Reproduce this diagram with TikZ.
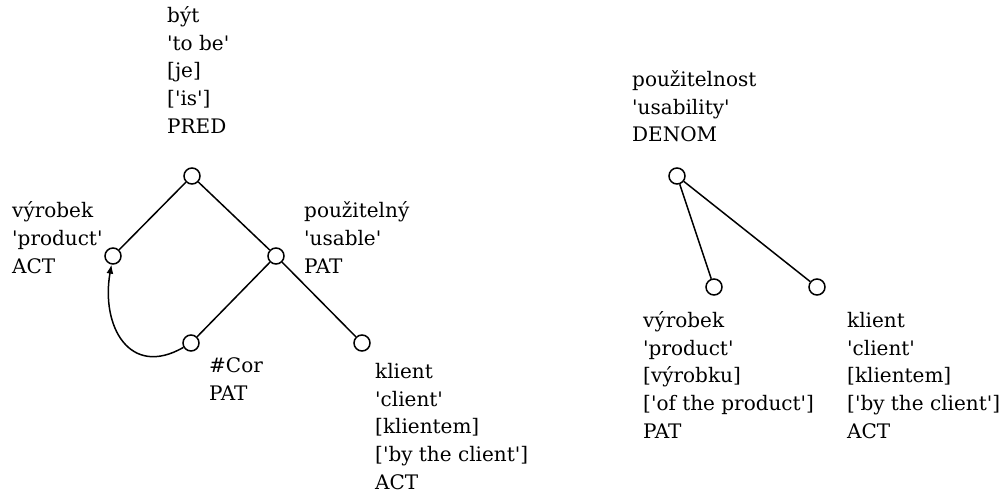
\documentclass[tikz,border=0pt]{standalone}
\usepackage{fontspec}
\setmainfont[Ligatures=TeXOff]{DejaVu Serif}
\usetikzlibrary{arrows.meta}
\begin{document}
\begin{tikzpicture}[x=1pt,y=1pt,
  vtx/.style={circle,draw,line width=1.5pt,minimum size=16pt,inner sep=0pt},
  lbl/.style={anchor=base west,align=left,inner sep=0pt,font=\fontsize{20}{27.6}\selectfont},
  edge/.style={line width=1.5pt}]
\useasboundingbox (0,0) rectangle (1003,-500);
% left tree
\node[vtx] (A) at (192,-176) {};
\node[vtx] (B) at (113,-256) {};
\node[vtx] (C) at (276,-256) {};
\node[vtx] (D) at (191,-343) {};
\node[vtx] (E) at (362,-343) {};
\draw[edge] (A) -- (B);
\draw[edge] (A) -- (C);
\draw[edge] (C) -- (D);
\draw[edge] (C) -- (E);
\draw[edge,-{Latex[length=9pt,width=7pt]}] (D) to[out=210,in=260,looseness=1.45] (B);
\node[lbl] (tA) at (167,-133) {být\\'to be'\\{[}je{]}\\{[}'is'{]}\\PRED};
\node[lbl] (tB) at (12,-273) {výrobek\\'product'\\ACT};
\node[lbl] (tC) at (304,-273) {použitelný\\'usable'\\PAT};
\node[lbl] (tD) at (209,-400) {\#Cor\\PAT};
\node[lbl] (tE) at (375,-489) {klient\\'client'\\{[}klientem{]}\\{[}'by the client'{]}\\ACT};
% right tree
\node[vtx] (F) at (677,-176) {};
\node[vtx] (G) at (714,-287) {};
\node[vtx] (H) at (817,-287) {};
\draw[edge] (F) -- (G);
\draw[edge] (F) -- (H);
\node[lbl] (tF) at (632,-142) {použitelnost\\'usability'\\DENOM};
\node[lbl] (tG) at (643,-438) {výrobek\\'product'\\{[}výrobku{]}\\{[}'of the product'{]}\\PAT};
\node[lbl] (tH) at (847,-438) {klient\\'client'\\{[}klientem{]}\\{[}'by the client'{]}\\ACT};
\end{tikzpicture}
\end{document}
